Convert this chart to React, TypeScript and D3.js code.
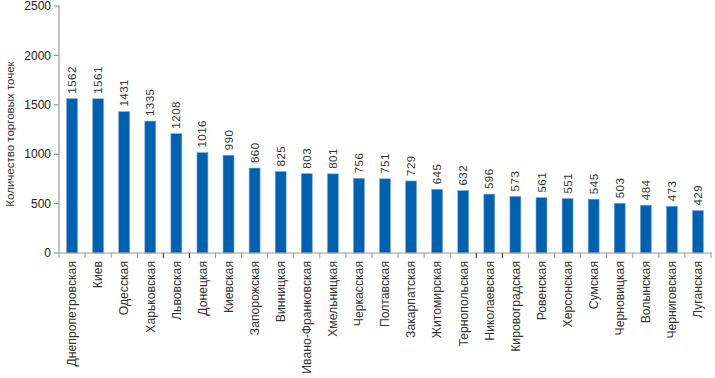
import React from "react";
import * as d3 from "d3";

const categories = [
  "Днепропетровская", "Киев", "Одесская", "Харьковская", "Львовская", "Донецкая",
  "Киевская", "Запорожская", "Винницкая", "Ивано-Франковская", "Хмельницкая",
  "Черкасская", "Полтавская", "Закарпатская", "Житомирская", "Тернопольская",
  "Николаевская", "Кировоградская", "Ровенская", "Херсонская", "Сумская",
  "Черновицкая", "Волынская", "Черниговская", "Луганская",
];
const values = [1562, 1561, 1431, 1335, 1208, 1016, 990, 860, 825, 803, 801, 756, 751, 729, 645, 632, 596, 573, 561, 551, 545, 503, 484, 473, 429];
const yTicks = [0, 500, 1000, 1500, 2000, 2500];
const yTitle = "Количество торговых точек";

export default function App() {
  const W = 715, H = 378;
  const left = 59, right = 711, top = 6, bottom = 253;
  const x = d3.scaleBand<string>().domain(categories).range([left, right]).paddingInner(0.58).paddingOuter(0.29);
  const y = d3.scaleLinear().domain([0, 2500]).range([bottom, top]);
  const font = "'Liberation Sans', Arial, sans-serif";
  const step = x.step();
  return (
    <svg width={W} height={H} style={{ position: "absolute", left: 0, top: 0 }} fontFamily={font}>
      <rect width={W} height={H} fill="#fff" />
      {/* y axis */}
      <line x1={left} x2={left} y1={top} y2={bottom} stroke="#999" strokeWidth={1.2} />
      {yTicks.map((t) => (
        <g key={t}>
          <line x1={left - 5} x2={left} y1={y(t)} y2={y(t)} stroke="#999" strokeWidth={1.2} />
          <text x={left - 8} y={y(t)} dy="0.35em" textAnchor="end" fontSize={12} fill="#222">{t}</text>
        </g>
      ))}
      <text transform={`translate(14,${134}) rotate(-90)`} textAnchor="middle" fontSize={11.5} fill="#333">{yTitle}</text>
      {/* bars */}
      {categories.map((c, i) => (
        <g key={c}>
          <rect x={x(c)!} y={y(values[i])} width={x.bandwidth()} height={bottom - y(values[i])} fill="#0061b0" stroke="#7fa8d6" strokeWidth={0.6} />
          <text transform={`translate(${x(c)! + x.bandwidth() / 2},${y(values[i]) - 5}) rotate(-90)`} dy="0.35em" fontSize={11.5} fill="#333" letterSpacing={0.5}>{values[i]}</text>
        </g>
      ))}
      {/* x axis */}
      <line x1={left} x2={right + 1} y1={bottom} y2={bottom} stroke="#999" strokeWidth={1.2} />
      {d3.range(categories.length + 1).map((i) => (
        <line key={i} x1={left + i * step} x2={left + i * step} y1={bottom} y2={bottom + 5} stroke={i === 4 || i === 5 || i === 16 || i === 17 ? "#222" : "#999"} strokeWidth={1} />
      ))}
      {categories.map((c) => (
        <text key={c} transform={`translate(${x(c)! + x.bandwidth() / 2},${bottom + 8}) rotate(-90)`} dy="0.35em" textAnchor="end" fontSize={12.2} fill="#333">{c}</text>
      ))}
    </svg>
  );
}
